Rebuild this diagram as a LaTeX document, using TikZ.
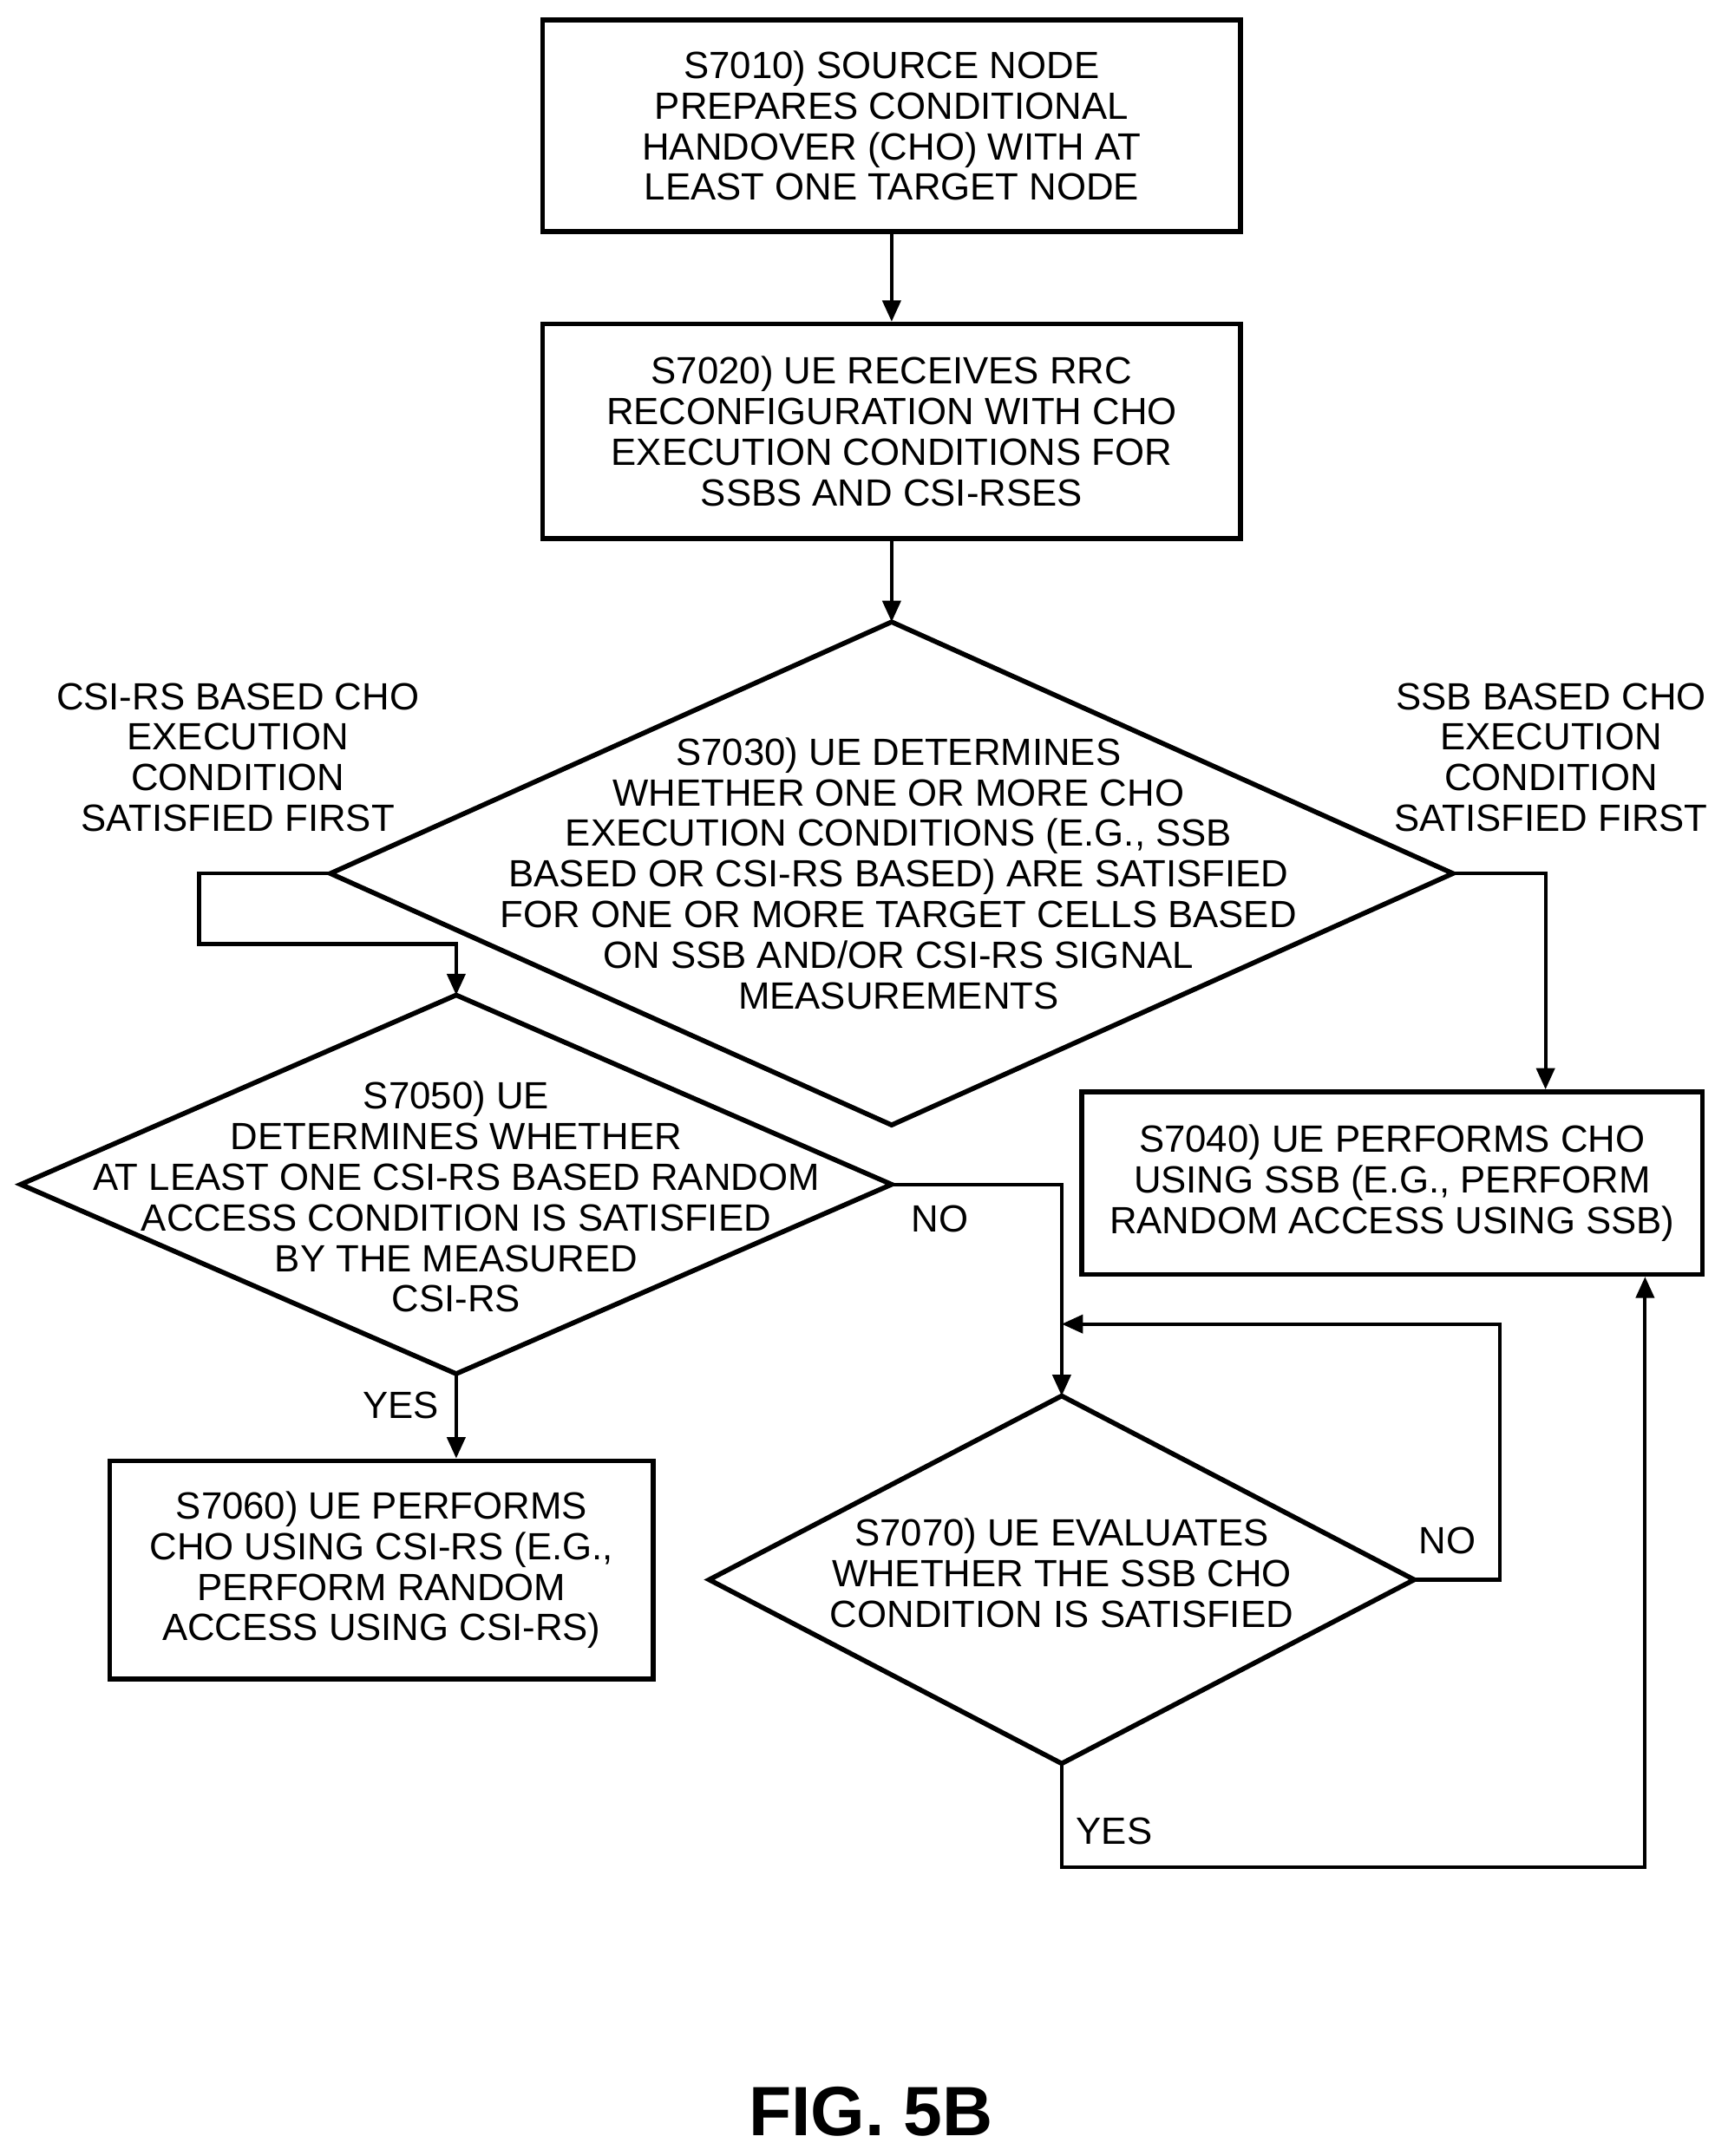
\documentclass[tikz,border=0pt]{standalone}
\usepackage{fontspec}
\setmainfont{Liberation Sans}
\usetikzlibrary{arrows.meta,calc}
\tikzset{
	stepbox/.style={draw, line width=1.6pt, align=center, inner sep=0pt},
	steptext/.style={align=center, font=\fontsize{12.5}{13.4}\selectfont},
	flow/.style={draw, line width=1.2pt, -{Triangle[length=7pt,width=6pt]}},
	line/.style={draw, line width=1.2pt}
}
\newcommand{\decision}[5]{% name, cx, cy, half width, half height
	\coordinate (#1-n) at (#2,#3-#5);
	\coordinate (#1-s) at (#2,#3+#5);
	\coordinate (#1-w) at (#2-#4,#3);
	\coordinate (#1-e) at (#2+#4,#3);
	\draw[line width=1.6pt] (#1-n) -- (#1-e) -- (#1-s) -- (#1-w) -- cycle;
}
\begin{document}
\begin{tikzpicture}[x=0.016cm, y=-0.016cm, font=\fontsize{12.5}{13.4}\selectfont]
	\useasboundingbox (0,0) rectangle (1250,1560);

	% boxes
	\node[stepbox, minimum width=505*0.016cm, minimum height=153*0.016cm] (s7010) at (645,91)
		{S7010) SOURCE NODE\\PREPARES CONDITIONAL\\HANDOVER (CHO) WITH AT\\LEAST ONE TARGET NODE};
	\node[stepbox, minimum width=505*0.016cm, minimum height=155*0.016cm] (s7020) at (645,312)
		{S7020) UE RECEIVES RRC\\RECONFIGURATION WITH CHO\\EXECUTION CONDITIONS FOR\\SSBS AND CSI-RSES};
	\node[stepbox, minimum width=449*0.016cm, minimum height=132*0.016cm] (s7040) at (1007,856)
		{S7040) UE PERFORMS CHO\\USING SSB (E.G., PERFORM\\RANDOM ACCESS USING SSB)};
	\node[stepbox, minimum width=393*0.016cm, minimum height=158*0.016cm] (s7060) at (276,1136)
		{S7060) UE PERFORMS\\CHO USING CSI-RS (E.G.,\\PERFORM RANDOM\\ACCESS USING CSI-RS)};

	% decisions
	\decision{s7030}{645}{632}{406}{182}
	\node[steptext] (t7030) at (650,632) {S7030) UE DETERMINES\\WHETHER ONE OR MORE CHO\\EXECUTION CONDITIONS (E.G., SSB\\BASED OR CSI-RS BASED) ARE SATISFIED\\FOR ONE OR MORE TARGET CELLS BASED\\ON SSB AND/OR CSI-RS SIGNAL\\MEASUREMENTS};
	\decision{s7050}{330}{857}{315}{137}
	\node[steptext] (t7050) at (330,866) {S7050) UE\\DETERMINES WHETHER\\AT LEAST ONE CSI-RS BASED RANDOM\\ACCESS CONDITION IS SATISFIED\\BY THE MEASURED\\CSI-RS};
	\decision{s7070}{768}{1143}{255}{133}
	\node[steptext] (t7070) at (768,1138) {S7070) UE EVALUATES\\WHETHER THE SSB CHO\\CONDITION IS SATISFIED};

	% side labels
	\node[steptext] (csilbl) at (172,548) {CSI-RS BASED CHO\\EXECUTION\\CONDITION\\SATISFIED FIRST};
	\node[steptext] (ssblbl) at (1122,548) {SSB BASED CHO\\EXECUTION\\CONDITION\\SATISFIED FIRST};

	% connectors
	\path[flow] (s7010) -- (s7020);
	\path[flow] (s7020) -- (s7030-n);
	\path[flow] (s7030-w) -- ++(-95,0) |- ($(s7050-n)+(0,-37)$) -- (s7050-n);
	\path[flow] (s7030-e) -| (s7040.north -| 1118,0);
	\path[flow] (s7050-e) -| (s7070-n);
	\node (no1) at (680,882) {NO};
	\path[flow] (s7050-s) -- (s7050-s |- s7060.north);
	\node (yes1) at (290,1017) {YES};
	\coordinate (loop) at (768,958);
	\path[flow] (s7070-e) -- ++(62,0) |- (loop);
	\node (no2) at (1047,1115) {NO};
	\path[flow] (s7070-s) -- ++(0,75) -| (s7040.south -| 1190,0);
	\node (yes2) at (806,1325) {YES};

	\node[font=\fontsize{23}{27}\selectfont\bfseries] (fig) at (630,1528) {FIG. 5B};
\end{tikzpicture}
\end{document}
